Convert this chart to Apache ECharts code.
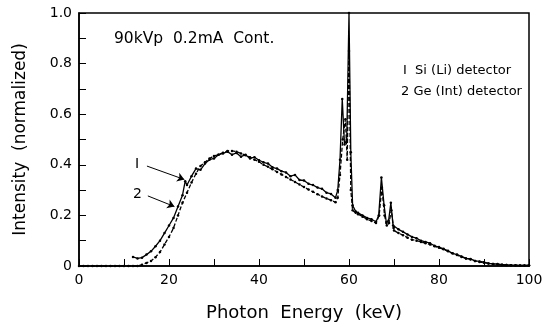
<!DOCTYPE html>
<html>
<head>
<meta charset="utf-8">
<script src="https://cdn.jsdelivr.net/npm/echarts@6/dist/echarts.min.js"></script>
<style>
  html, body { margin: 0; padding: 0; background: #fff; }
  #main { width: 551px; height: 332px; }
</style>
</head>
<body>
<div id="main"></div>
<script>
// x 轴刻度标签
var xTicks = [0, 20, 40, 60, 80, 100];
var yTicks = [0, 0.2, 0.4, 0.6, 0.8, 1.0];

// 1 Si (Li) detector
var siEnergy = [12, 13, 14, 15, 16, 17, 18, 19, 20, 21, 22, 23, 23.6, 24, 25, 26, 27, 28, 29, 30,
  31, 32, 33, 34, 35, 36, 37, 38, 39, 40, 41, 42, 43, 44, 45, 46, 47, 48, 49, 50,
  51, 52, 53, 54, 55, 56, 57, 57.5, 58, 58.5, 59, 59.5, 60, 60.4, 60.8, 61.5, 62, 63, 64, 65,
  66, 66.6, 67.2, 67.8, 68.3, 68.8, 69.3, 69.8, 70, 71, 72, 73, 74, 75, 76, 77, 78, 79, 80,
  81, 82, 83, 84, 85, 86, 87, 88, 89, 90, 91, 92, 93, 94, 95, 96, 97, 98, 99, 100];
var siValue = [0.036, 0.03, 0.033, 0.045, 0.058, 0.078, 0.1, 0.13, 0.16, 0.19, 0.235, 0.28, 0.335, 0.32, 0.355, 0.385, 0.38, 0.405, 0.42, 0.425,
  0.44, 0.445, 0.452, 0.44, 0.447, 0.432, 0.44, 0.425, 0.43, 0.418, 0.41, 0.405, 0.39, 0.385, 0.375, 0.37, 0.355, 0.36, 0.34, 0.338,
  0.325, 0.32, 0.31, 0.305, 0.29, 0.285, 0.27, 0.3, 0.42, 0.66, 0.48, 0.5, 1.0, 0.45, 0.24, 0.215, 0.21, 0.2, 0.19, 0.185,
  0.175, 0.2, 0.35, 0.24, 0.17, 0.18, 0.25, 0.16, 0.155, 0.145, 0.135, 0.125, 0.115, 0.11, 0.1, 0.095, 0.09, 0.08, 0.075,
  0.068, 0.06, 0.05, 0.045, 0.038, 0.03, 0.028, 0.02, 0.018, 0.015, 0.01, 0.008, 0.008, 0.005, 0.004, 0.003, 0.003, 0.002, 0.002, 0.003];

// 2 Ge (Int) detector
var geEnergy = [0, 1, 2, 3, 4, 5, 6, 7, 8, 9, 10, 11, 12, 13, 14, 15, 16, 17, 18, 19, 20,
  21, 22, 23, 24, 25, 26, 27, 28, 29, 30, 31, 32, 33, 34, 35, 36, 37, 38, 39, 40,
  41, 42, 43, 44, 45, 46, 47, 48, 49, 50, 51, 52, 53, 54, 55, 56, 57, 57.5, 58, 58.6, 59.2, 59.6, 60, 60.4, 60.8,
  61.5, 62, 63, 64, 65, 66, 66.7, 67.3, 67.9, 68.4, 68.9, 69.4, 69.9, 70, 71, 72, 73, 74, 75, 76, 77, 78, 79, 80,
  81, 82, 83, 84, 85, 86, 87, 88, 89, 90, 91, 92, 93, 94, 95, 96, 97, 98, 99, 100];
var geValue = [0, 0, 0, 0, 0, 0, 0, 0, 0, 0, 0, 0, 0, 0, 0.005, 0.012, 0.02, 0.035, 0.055, 0.085, 0.115,
  0.15, 0.2, 0.25, 0.29, 0.33, 0.365, 0.395, 0.41, 0.425, 0.435, 0.44, 0.448, 0.455, 0.455, 0.452, 0.445, 0.438, 0.43, 0.42, 0.412,
  0.4, 0.392, 0.382, 0.372, 0.362, 0.352, 0.342, 0.332, 0.322, 0.312, 0.302, 0.293, 0.284, 0.275, 0.267, 0.26, 0.252, 0.27, 0.36, 0.5, 0.58, 0.42, 0.85, 0.3, 0.22,
  0.21, 0.205, 0.195, 0.185, 0.178, 0.17, 0.2, 0.31, 0.2, 0.16, 0.17, 0.22, 0.15, 0.14, 0.13, 0.122, 0.112, 0.104, 0.1, 0.095, 0.09, 0.085, 0.078, 0.072,
  0.066, 0.058, 0.05, 0.043, 0.036, 0.03, 0.026, 0.02, 0.016, 0.013, 0.01, 0.008, 0.006, 0.005, 0.004, 0.003, 0.002, 0.002, 0.002, 0.002];

function pairs(xs, ys) {
  return xs.map(function (x, i) { return [x, ys[i]]; });
}

var font = 'DejaVu Sans';
var myChart = echarts.init(document.getElementById('main'));
var option = {
  backgroundColor: '#fff',
  animation: false,
  grid: {
    left: 79, right: 22, top: 13, bottom: 66,
    show: true, borderColor: '#000', borderWidth: 1.5
  },
  xAxis: {
    type: 'value', min: xTicks[0], max: xTicks[xTicks.length - 1], interval: 20,
    name: 'Photon  Energy  (keV)', nameLocation: 'middle', nameGap: 38,
    nameTextStyle: { fontFamily: font, fontSize: 18, color: '#000' },
    axisLine: { lineStyle: { color: '#000', width: 1.5 } },
    axisTick: { inside: true, length: 7, lineStyle: { color: '#000' } },
    minorTick: { show: true, splitNumber: 2, length: 7, lineStyle: { color: '#000' } },
    splitLine: { show: false },
    axisLabel: { fontFamily: font, fontSize: 14, color: '#000', margin: 7 }
  },
  yAxis: {
    type: 'value', min: yTicks[0], max: yTicks[yTicks.length - 1], interval: 0.2,
    name: 'Intensity  (normalized)', nameLocation: 'middle', nameGap: 50,
    nameTextStyle: { fontFamily: font, fontSize: 17, color: '#000' },
    axisLine: { lineStyle: { color: '#000', width: 1.5 } },
    axisTick: { inside: true, length: 7, lineStyle: { color: '#000' } },
    minorTick: { show: true, splitNumber: 2, length: 7, lineStyle: { color: '#000' } },
    splitLine: { show: false },
    axisLabel: {
      fontFamily: font, fontSize: 14, color: '#000', margin: 7,
      formatter: function (v) { return v === 0 ? '0' : v.toFixed(1); }
    }
  },
  series: [
    {
      name: '1 Si (Li) detector', type: 'line', data: pairs(siEnergy, siValue),
      symbol: 'circle', symbolSize: 2.5, showAllSymbol: true,
      lineStyle: { color: '#000', width: 1.3 }, itemStyle: { color: '#000' },
      markLine: {
        silent: true, symbol: ['none', 'arrow'], symbolSize: 7,
        label: { show: false },
        lineStyle: { color: '#000', width: 1, type: 'solid' },
        data: [
          [{ coord: [15.1, 0.395] }, { coord: [23.4, 0.342] }],
          [{ coord: [15.3, 0.277] }, { coord: [21.2, 0.235] }]
        ]
      }
    },
    {
      name: '2 Ge (Int) detector', type: 'line', data: pairs(geEnergy, geValue),
      symbol: 'circle', symbolSize: 2.5, showAllSymbol: true,
      lineStyle: { color: '#000', width: 1.3, type: [4, 2] }, itemStyle: { color: '#000' }
    }
  ],
  graphic: [
    { type: 'text', left: 114, top: 31, style: { text: '90kVp  0.2mA  Cont.', font: '15.5px "DejaVu Sans"', fill: '#000' } },
    { type: 'text', left: 403, top: 64, style: { text: 'I  Si (Li) detector', font: '13px "DejaVu Sans"', fill: '#000' } },
    { type: 'text', left: 401, top: 85, style: { text: '2 Ge (Int) detector', font: '13px "DejaVu Sans"', fill: '#000' } },
    { type: 'text', left: 135, top: 157, style: { text: 'I', font: '14px "DejaVu Sans"', fill: '#000' } },
    { type: 'text', left: 133, top: 187, style: { text: '2', font: '14px "DejaVu Sans"', fill: '#000' } }
  ]
};
myChart.setOption(option);
</script>
</body>
</html>
